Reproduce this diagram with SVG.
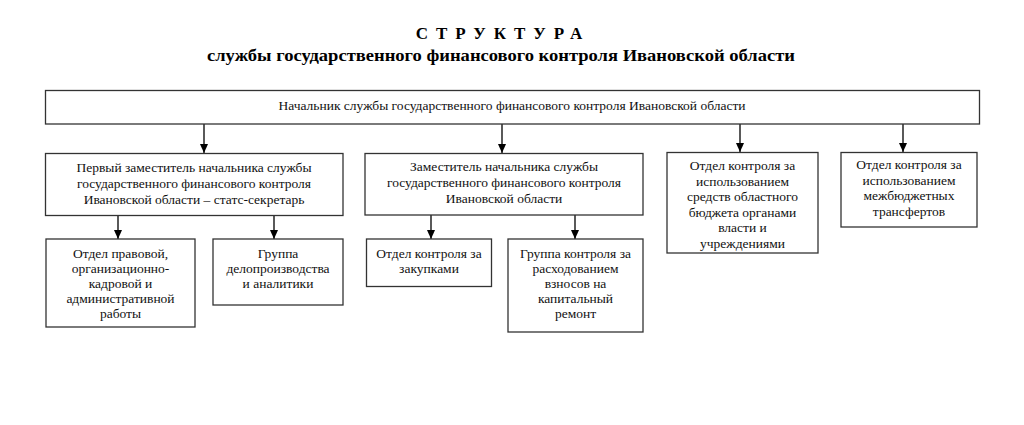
<svg xmlns="http://www.w3.org/2000/svg" width="1024" height="425" viewBox="0 0 1024 425">
<defs>
<marker id="ah" markerWidth="9" markerHeight="8" refX="9" refY="4" orient="auto" markerUnits="userSpaceOnUse" viewBox="0 0 9 8">
<path d="M0,0 L9,4 L0,8 Z" fill="#000"/>
</marker>
<style>
.box{fill:#fff;stroke:#333;stroke-width:1.3}
.t{font-family:"Liberation Serif","Times New Roman",serif;font-size:13.5px;fill:#111;text-anchor:middle}
.c{stroke:#000;stroke-width:1.3;fill:none}
.h{font-family:"Liberation Serif","Times New Roman",serif;font-weight:bold;fill:#000;text-anchor:middle}
</style>
</defs>
<rect width="1024" height="425" fill="#fff"/>
<g id="title">
<text class="h" x="503" y="39" font-size="17" letter-spacing="8">СТРУКТУРА</text>
<text class="h" x="501" y="61" font-size="17" textLength="588" lengthAdjust="spacingAndGlyphs">службы государственного финансового контроля Ивановской области</text>
</g>
<g id="connectors">
<line class="c" x1="204" y1="124" x2="204" y2="153" marker-end="url(#ah)"/>
<line class="c" x1="502" y1="124" x2="502" y2="153" marker-end="url(#ah)"/>
<line class="c" x1="740" y1="124" x2="740" y2="152" marker-end="url(#ah)"/>
<line class="c" x1="903" y1="124" x2="903" y2="152" marker-end="url(#ah)"/>
<line class="c" x1="118" y1="215.5" x2="118" y2="239" marker-end="url(#ah)"/>
<line class="c" x1="274" y1="215.5" x2="274" y2="239" marker-end="url(#ah)"/>
<line class="c" x1="431" y1="215" x2="431" y2="239" marker-end="url(#ah)"/>
<line class="c" x1="575" y1="215" x2="575" y2="239" marker-end="url(#ah)"/>
</g>
<g id="head">
<rect class="box" x="45.5" y="90.5" width="934" height="33.5"/>
<text class="t" x="512" y="110">Начальник службы государственного финансового контроля Ивановской области</text>
</g>
<g id="first-deputy">
<rect class="box" x="45.5" y="153.5" width="297.5" height="62"/>
<text class="t" x="194" y="172">Первый заместитель начальника службы</text>
<text class="t" x="194" y="188">государственного финансового контроля</text>
<text class="t" x="194" y="204">Ивановской области – статс-секретарь</text>
</g>
<g id="deputy">
<rect class="box" x="365" y="153.5" width="278" height="61.5"/>
<text class="t" x="504" y="171">Заместитель начальника службы</text>
<text class="t" x="504" y="187">государственного финансового контроля</text>
<text class="t" x="504" y="203">Ивановской области</text>
</g>
<g id="dept-budget">
<rect class="box" x="667" y="152.5" width="151" height="100.5"/>
<text class="t" x="742.5" y="170">Отдел контроля за</text>
<text class="t" x="742.5" y="185.5">использованием</text>
<text class="t" x="742.5" y="201">средств областного</text>
<text class="t" x="742.5" y="216.5">бюджета органами</text>
<text class="t" x="742.5" y="232">власти и</text>
<text class="t" x="742.5" y="247.5">учреждениями</text>
</g>
<g id="dept-transfers">
<rect class="box" x="841" y="152.5" width="136" height="74.5"/>
<text class="t" x="909" y="169">Отдел контроля за</text>
<text class="t" x="909" y="184.5">использованием</text>
<text class="t" x="909" y="200">межбюджетных</text>
<text class="t" x="909" y="215.5">трансфертов</text>
</g>
<g id="dept-legal">
<rect class="box" x="46" y="239" width="149" height="88"/>
<text class="t" x="120.5" y="258">Отдел правовой,</text>
<text class="t" x="120.5" y="273">организационно-</text>
<text class="t" x="120.5" y="288">кадровой и</text>
<text class="t" x="120.5" y="303">административной</text>
<text class="t" x="120.5" y="318">работы</text>
</g>
<g id="group-office">
<rect class="box" x="213" y="239" width="130" height="66"/>
<text class="t" x="278" y="258">Группа</text>
<text class="t" x="278" y="273">делопроизводства</text>
<text class="t" x="278" y="288">и аналитики</text>
</g>
<g id="dept-procurement">
<rect class="box" x="366.5" y="239" width="125" height="47.5"/>
<text class="t" x="429" y="258">Отдел контроля за</text>
<text class="t" x="429" y="273">закупками</text>
</g>
<g id="group-repair">
<rect class="box" x="508" y="239" width="135" height="93"/>
<text class="t" x="575.5" y="258">Группа контроля за</text>
<text class="t" x="575.5" y="273">расходованием</text>
<text class="t" x="575.5" y="288">взносов на</text>
<text class="t" x="575.5" y="303">капитальный</text>
<text class="t" x="575.5" y="318">ремонт</text>
</g>
</svg>
